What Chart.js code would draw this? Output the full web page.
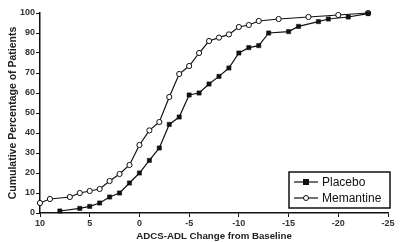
<!DOCTYPE html>
<html>
<head>
<meta charset="utf-8">
<script src="https://cdn.jsdelivr.net/npm/chart.js@4.4.1/dist/chart.umd.min.js"></script>
<style>
  html, body { margin: 0; padding: 0; background: #fff; }
  #wrap { width: 400px; height: 242px; }
</style>
</head>
<body>
<div id="wrap"><canvas id="chart" width="400" height="242"></canvas></div>
<script>
// ADCS-ADL change from baseline (x) vs cumulative % of patients (y)
const placeboChange = [8, 6, 5, 4, 3, 2, 1, 0, -1, -2, -3, -4, -5, -6, -7, -8, -9, -10, -11, -12, -13, -15, -16, -18, -19, -21, -23];
const placeboPct = [1, 2.3, 3.3, 5, 8, 10, 15, 20, 26.3, 32.5, 44.3, 48, 59, 60, 64.5, 68.3, 72.5, 80, 82.7, 83.7, 90, 90.7, 93.3, 95.7, 97, 98, 99.7];

const memantineChange = [10, 9, 7, 6, 5, 4, 3, 2, 1, 0, -1, -2, -3, -4, -5, -6, -7, -8, -9, -10, -11, -12, -14, -17, -20, -23];
const memantinePct = [5, 7, 8, 10, 11, 12, 16, 19.5, 24, 34, 41.3, 45.5, 58, 69.5, 73.5, 80, 86, 87.7, 89.3, 93, 94, 96, 97, 98, 99, 100];

const xTicks = [10, 5, 0, -5, -10, -15, -20, -25];
const yTicks = [0, 10, 20, 30, 40, 50, 60, 70, 80, 90, 100];

const seriesNames = ['Placebo', 'Memantine'];
const xTitle = 'ADCS-ADL Change from Baseline';
const yTitle = 'Cumulative Percentage of Patients';

const toPoints = (xs, ys) => xs.map((x, i) => ({ x: x, y: ys[i] }));

const FONT = '"Liberation Sans", Arial, sans-serif';
const INK = '#111';

// boxed legend in the lower right corner of the plot
const boxLegend = {
  id: 'boxLegend',
  afterDatasetsDraw(chart) {
    const { ctx, chartArea } = chart;
    const w = 101, h = 36;
    const x0 = chartArea.right - w + 2;
    const y0 = chartArea.bottom - h - 5;
    ctx.save();
    ctx.fillStyle = '#fff';
    ctx.fillRect(x0, y0, w, h);
    ctx.strokeStyle = INK;
    ctx.lineWidth = 1.5;
    ctx.strokeRect(x0, y0, w, h);
    chart.data.datasets.forEach((ds, i) => {
      const cy = y0 + 10 + i * 16;
      ctx.strokeStyle = INK;
      ctx.lineWidth = 1.2;
      ctx.beginPath();
      ctx.moveTo(x0 + 5, cy);
      ctx.lineTo(x0 + 29, cy);
      ctx.stroke();
      ctx.fillStyle = ds.pointBackgroundColor;
      ctx.lineWidth = 1;
      if (ds.pointStyle === 'rect') {
        ctx.fillRect(x0 + 14, cy - 3, 6, 6);
      } else {
        ctx.beginPath();
        ctx.arc(x0 + 17, cy, 2.5, 0, Math.PI * 2);
        ctx.fill();
        ctx.stroke();
      }
      ctx.fillStyle = INK;
      ctx.font = '12px ' + FONT;
      ctx.textBaseline = 'middle';
      ctx.fillText(ds.label, x0 + 33, cy + 1);
    });
    ctx.restore();
  }
};

new Chart(document.getElementById('chart'), {
  type: 'line',
  data: {
    datasets: [{
      label: seriesNames[0],
      data: toPoints(placeboChange, placeboPct),
      borderColor: INK,
      borderWidth: 1.2,
      pointStyle: 'rect',
      pointRadius: 3,
      pointBackgroundColor: INK,
      pointBorderColor: INK,
      pointBorderWidth: 0.5,
      tension: 0,
      clip: false
    }, {
      label: seriesNames[1],
      data: toPoints(memantineChange, memantinePct),
      borderColor: INK,
      borderWidth: 1.2,
      pointStyle: 'circle',
      pointRadius: 2.6,
      pointBackgroundColor: '#fff',
      pointBorderColor: INK,
      pointBorderWidth: 1,
      tension: 0,
      clip: false
    }]
  },
  options: {
    responsive: false,
    animation: false,
    layout: { padding: { top: 13, right: 12, left: 0, bottom: 0 } },
    plugins: {
      legend: { display: false },
      tooltip: { enabled: false }
    },
    scales: {
      x: {
        type: 'linear',
        reverse: true,
        min: Math.min(...xTicks),
        max: Math.max(...xTicks),
        afterBuildTicks: s => { s.ticks = xTicks.map(v => ({ value: v })); },
        afterFit: s => { s.height = 29; },
        border: { display: true, color: INK, width: 1.5 },
        grid: { drawOnChartArea: false, drawTicks: true, tickLength: 4, color: INK, lineWidth: 1 },
        ticks: {
          color: '#333',
          padding: 1,
          maxRotation: 0,
          font: { family: FONT, size: 9, weight: 'bold' }
        },
        title: {
          display: true,
          text: xTitle,
          color: '#222',
          padding: { top: 0, bottom: 0 },
          font: { family: FONT, size: 9.7, weight: 'bold' }
        }
      },
      y: {
        min: Math.min(...yTicks),
        max: Math.max(...yTicks),
        afterBuildTicks: s => { s.ticks = yTicks.map(v => ({ value: v })); },
        afterFit: s => { s.width = 40; },
        border: { display: true, color: INK, width: 1.5 },
        grid: { drawOnChartArea: false, drawTicks: true, tickLength: 4, color: INK, lineWidth: 1 },
        ticks: {
          color: '#333',
          padding: 1,
          font: { family: FONT, size: 9, weight: 'bold' }
        },
        title: {
          display: true,
          text: yTitle,
          color: '#222',
          padding: { top: 7, bottom: 0 },
          font: { family: FONT, size: 10.5, weight: 'bold' }
        }
      }
    }
  },
  plugins: [boxLegend]
});
</script>
</body>
</html>
